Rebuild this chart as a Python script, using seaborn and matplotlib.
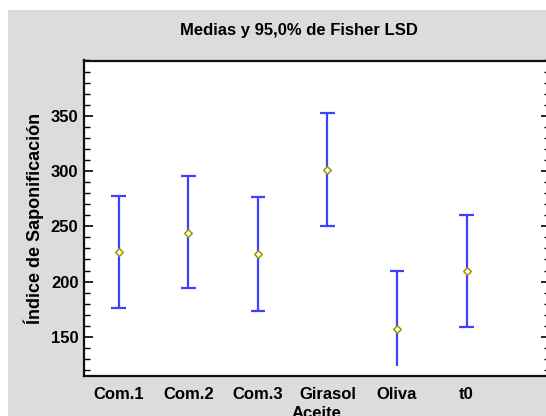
import matplotlib
matplotlib.use("Agg")
import matplotlib.pyplot as plt
import seaborn as sns
import pandas as pd
from matplotlib.patches import Rectangle
from matplotlib.ticker import MultipleLocator

categories = ["Com.1", "Com.2", "Com.3", "Girasol", "Oliva", "t0"]
means = [226.9, 244.1, 225.1, 300.5, 157.4, 209.6]
upper = [277.3, 295.4, 276.4, 352.2, 209.3, 260.6]
lower = [175.8, 193.9, 173.7, 250.1, 123.3, 158.6]
lower_cap = [True, True, True, True, False, True]
yticks = [150, 200, 250, 300, 350]

sns.set_style("ticks")
plt.rcParams["font.family"] = ["Liberation Sans", "DejaVu Sans"]
plt.rcParams["font.weight"] = "bold"
plt.rcParams["text.color"] = "black"
plt.rcParams["axes.labelcolor"] = "black"
plt.rcParams["xtick.color"] = "black"
plt.rcParams["ytick.color"] = "black"

W, H = 546, 416
fig = plt.figure(figsize=(W / 100, H / 100), dpi=100)
fig.patch.set_facecolor("white")
fig.add_artist(Rectangle((8 / W, 0), 1, 1 - 10 / H, transform=fig.transFigure,
                         facecolor="#dcdcdc", edgecolor="none", zorder=-10))

left, right, top, bottom = 84, 550, 60.5, 375.5
ax = fig.add_axes([left / W, 1 - bottom / H, (right - left) / W, (bottom - top) / H])
ax.set_facecolor("white")

df = pd.DataFrame({"Aceite": categories, "x": range(1, len(categories) + 1),
                   "mean": means, "lo": lower, "hi": upper})

blue = "#4040ff"
ax.vlines(df["x"], df["lo"], df["hi"], color=blue, lw=1.6, zorder=2)
capw = 0.105
ax.hlines(df["hi"], df["x"] - capw, df["x"] + capw, color=blue, lw=1.6, zorder=2)
dl = df[lower_cap]
ax.hlines(dl["lo"], dl["x"] - capw, dl["x"] + capw, color=blue, lw=1.6, zorder=2)

sns.scatterplot(data=df, x="x", y="mean", marker="D", s=15, facecolor="white",
                edgecolor="#9a9a00", linewidth=1.1, ax=ax, zorder=3)

ax.set_xlim(0.5, 7.2)
ax.set_ylim(115, 400)
ax.set_xticks(df["x"])
ax.set_xticklabels(categories, fontsize=12, fontweight="bold")
ax.set_yticks(yticks)
ax.set_yticklabels([str(v) for v in yticks], fontsize=12, fontweight="bold")
ax.yaxis.set_minor_locator(MultipleLocator(10))
ax.tick_params(axis="x", length=0, pad=8)
ax.tick_params(axis="y", which="major", direction="in", length=6.5, width=1.2,
               left=True, right=True, pad=4)
ax.tick_params(axis="y", which="minor", direction="in", length=4.3, width=1.0,
               left=True, right=True)
for s in ax.spines.values():
    s.set_linewidth(1.6)
    s.set_color("#101010")
ax.set_xlabel("")
ax.set_ylabel("Índice de Saponificación", fontsize=13, fontweight="bold", labelpad=5)

fig.text(299 / W, 1 - 30 / H, "Medias y 95,0% de Fisher LSD", ha="center", va="center",
         fontsize=12, fontweight="bold")
fig.text(317 / W, 1 - 406 / H, "Aceite", ha="center", va="top",
         fontsize=12, fontweight="bold")

fig.savefig("out.png", dpi=100)
